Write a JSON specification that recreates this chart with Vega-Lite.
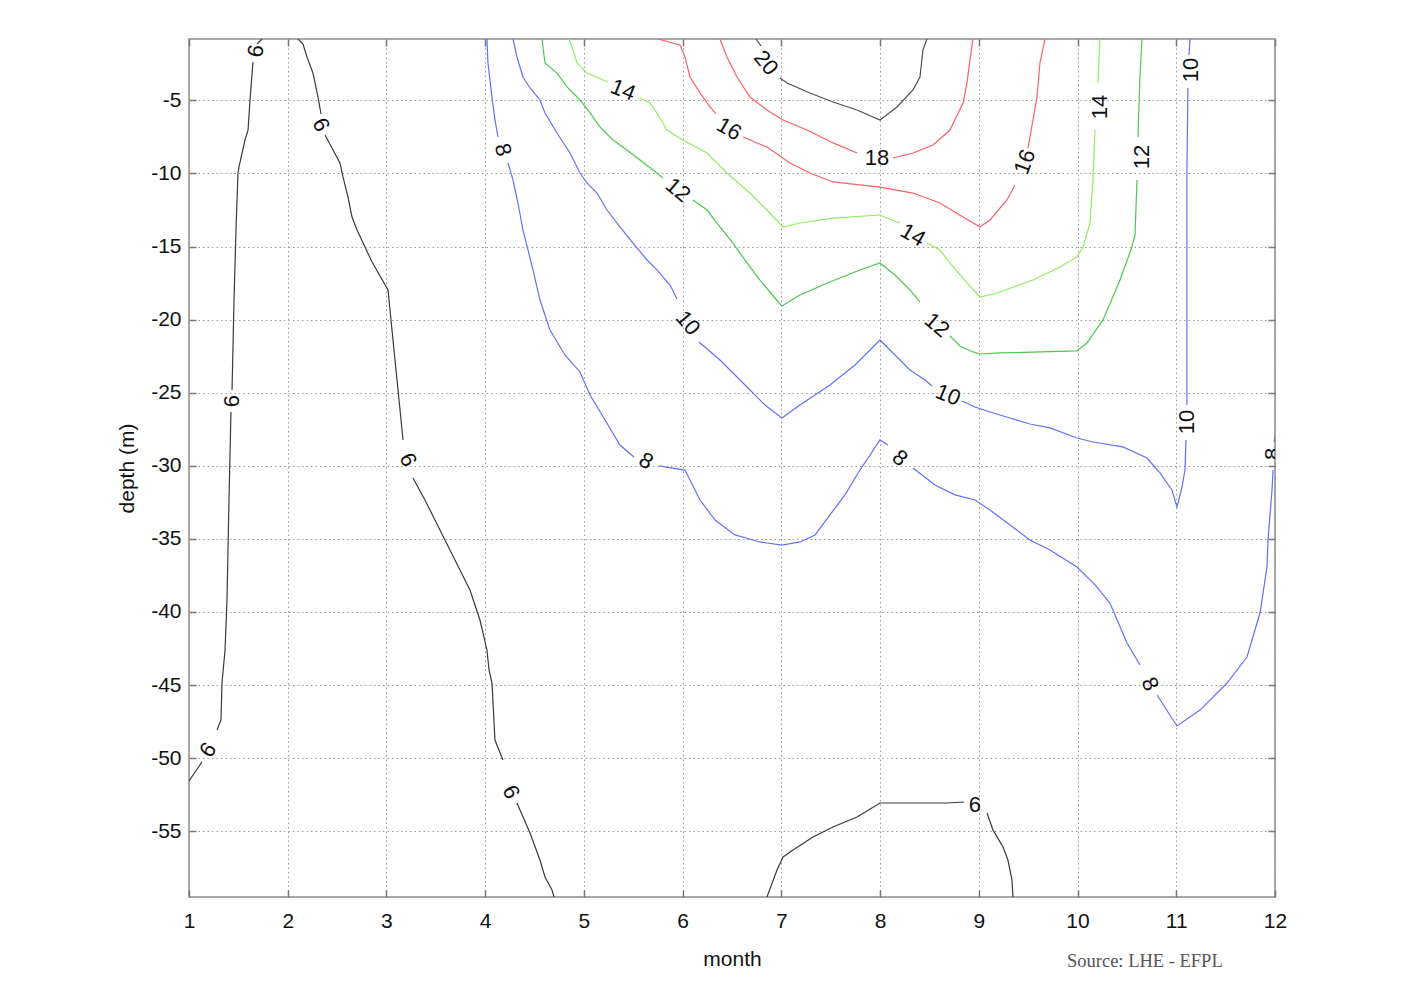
{
  "$schema": "https://vega.github.io/schema/vega-lite/v6.json",
  "width": 1086,
  "height": 858,
  "autosize": "none",
  "padding": {"left": 189, "top": 39, "right": 137, "bottom": 94},
  "background": "white",
  "title": {"text": "Source: LHE - EFPL", "orient": "bottom", "anchor": "end", "font": "Liberation Serif", "fontSize": 18.5, "fontWeight": "normal", "color": "#555555", "dx": -64, "offset": -17},
  "config": {
    "font": "Liberation Sans",
    "view": {"stroke": "#8c8c8c", "strokeWidth": 1.5},
    "text": {"font": "Liberation Sans", "fontSize": 22, "color": "#111111", "align": "center", "baseline": "middle"}
  },
  "datasets": {
    "lines": [
      {"l":"6","s":"6a1","m":1.739,"d":-0.80},{"l":"6","s":"6a1","m":1.689,"d":-1.14},
      {"l":"6","s":"6a2","m":1.648,"d":-2.37},{"l":"6","s":"6a2","m":1.618,"d":-4.97},{"l":"6","s":"6a2","m":1.598,"d":-7.03},{"l":"6","s":"6a2","m":1.567,"d":-7.71},{"l":"6","s":"6a2","m":1.506,"d":-9.56},{"l":"6","s":"6a2","m":1.496,"d":-9.97},{"l":"6","s":"6a2","m":1.476,"d":-13.87},{"l":"6","s":"6a2","m":1.456,"d":-18.66},{"l":"6","s":"6a2","m":1.436,"d":-24.81},
      {"l":"6","s":"6a3","m":1.425,"d":-26.32},{"l":"6","s":"6a3","m":1.405,"d":-32.34},{"l":"6","s":"6a3","m":1.385,"d":-39.18},{"l":"6","s":"6a3","m":1.365,"d":-42.60},{"l":"6","s":"6a3","m":1.334,"d":-44.86},{"l":"6","s":"6a3","m":1.324,"d":-47.39},{"l":"6","s":"6a3","m":1.284,"d":-48.07},
      {"l":"6","s":"6a4","m":1.132,"d":-50.26},{"l":"6","s":"6a4","m":1.0,"d":-51.56},
      {"l":"6","s":"6b1","m":2.104,"d":-0.80},{"l":"6","s":"6b1","m":2.155,"d":-1.14},{"l":"6","s":"6b1","m":2.195,"d":-2.03},{"l":"6","s":"6b1","m":2.256,"d":-3.13},{"l":"6","s":"6b1","m":2.307,"d":-4.77},{"l":"6","s":"6b1","m":2.337,"d":-5.93},
      {"l":"6","s":"6b2","m":2.378,"d":-7.37},{"l":"6","s":"6b2","m":2.459,"d":-8.39},{"l":"6","s":"6b2","m":2.529,"d":-9.28},{"l":"6","s":"6b2","m":2.560,"d":-10.24},{"l":"6","s":"6b2","m":2.610,"d":-11.61},{"l":"6","s":"6b2","m":2.651,"d":-12.98},{"l":"6","s":"6b2","m":2.702,"d":-13.87},{"l":"6","s":"6b2","m":2.854,"d":-16.06},{"l":"6","s":"6b2","m":3.016,"d":-17.97},{"l":"6","s":"6b2","m":3.056,"d":-20.71},{"l":"6","s":"6b2","m":3.107,"d":-24.13},{"l":"6","s":"6b2","m":3.168,"d":-28.23},
      {"l":"6","s":"6b3","m":3.269,"d":-30.83},{"l":"6","s":"6b3","m":3.390,"d":-32.34},{"l":"6","s":"6b3","m":3.542,"d":-34.39},{"l":"6","s":"6b3","m":3.694,"d":-36.44},{"l":"6","s":"6b3","m":3.846,"d":-38.50},{"l":"6","s":"6b3","m":3.947,"d":-40.55},{"l":"6","s":"6b3","m":4.018,"d":-42.60},{"l":"6","s":"6b3","m":4.039,"d":-43.97},{"l":"6","s":"6b3","m":4.069,"d":-44.86},{"l":"6","s":"6b3","m":4.099,"d":-48.76},{"l":"6","s":"6b3","m":4.180,"d":-50.13},
      {"l":"6","s":"6b4","m":4.322,"d":-53.07},{"l":"6","s":"6b4","m":4.454,"d":-55.12},{"l":"6","s":"6b4","m":4.555,"d":-56.97},{"l":"6","s":"6b4","m":4.606,"d":-58.13},{"l":"6","s":"6b4","m":4.677,"d":-59.02},{"l":"6","s":"6b4","m":4.697,"d":-59.50},
      {"l":"6","s":"6c1","m":6.854,"d":-59.50},{"l":"6","s":"6c1","m":6.956,"d":-57.65},{"l":"6","s":"6c1","m":7.017,"d":-56.76},{"l":"6","s":"6c1","m":7.118,"d":-56.28},{"l":"6","s":"6c1","m":7.320,"d":-55.39},{"l":"6","s":"6c1","m":7.523,"d":-54.71},{"l":"6","s":"6c1","m":7.766,"d":-54.03},{"l":"6","s":"6c1","m":7.999,"d":-53.07},{"l":"6","s":"6c1","m":8.677,"d":-53.07},{"l":"6","s":"6c1","m":8.850,"d":-53.00},
      {"l":"6","s":"6c2","m":9.083,"d":-53.75},{"l":"6","s":"6c2","m":9.143,"d":-54.91},{"l":"6","s":"6c2","m":9.245,"d":-56.08},{"l":"6","s":"6c2","m":9.295,"d":-56.97},{"l":"6","s":"6c2","m":9.336,"d":-58.34},{"l":"6","s":"6c2","m":9.346,"d":-59.50},
      {"l":"8","s":"8a1","m":4.018,"d":-0.80},{"l":"8","s":"8a1","m":4.028,"d":-2.44},{"l":"8","s":"8a1","m":4.069,"d":-4.77},{"l":"8","s":"8a1","m":4.099,"d":-6.34},{"l":"8","s":"8a1","m":4.130,"d":-7.50},
      {"l":"8","s":"8a2","m":4.231,"d":-9.28},{"l":"8","s":"8a2","m":4.282,"d":-10.45},{"l":"8","s":"8a2","m":4.332,"d":-12.02},{"l":"8","s":"8a2","m":4.383,"d":-13.87},{"l":"8","s":"8a2","m":4.434,"d":-15.24},{"l":"8","s":"8a2","m":4.484,"d":-16.60},{"l":"8","s":"8a2","m":4.555,"d":-18.66},{"l":"8","s":"8a2","m":4.656,"d":-20.71},{"l":"8","s":"8a2","m":4.808,"d":-22.42},{"l":"8","s":"8a2","m":4.960,"d":-23.58},{"l":"8","s":"8a2","m":5.062,"d":-25.16},{"l":"8","s":"8a2","m":5.214,"d":-26.87},{"l":"8","s":"8a2","m":5.365,"d":-28.58},{"l":"8","s":"8a2","m":5.507,"d":-29.40},
      {"l":"8","s":"8a3","m":5.760,"d":-30.01},{"l":"8","s":"8a3","m":6.024,"d":-30.29},{"l":"8","s":"8a3","m":6.074,"d":-30.97},{"l":"8","s":"8a3","m":6.176,"d":-32.34},{"l":"8","s":"8a3","m":6.328,"d":-33.71},{"l":"8","s":"8a3","m":6.530,"d":-34.73},{"l":"8","s":"8a3","m":6.783,"d":-35.21},{"l":"8","s":"8a3","m":7.006,"d":-35.42},{"l":"8","s":"8a3","m":7.188,"d":-35.21},{"l":"8","s":"8a3","m":7.341,"d":-34.73},{"l":"8","s":"8a3","m":7.492,"d":-33.36},{"l":"8","s":"8a3","m":7.644,"d":-31.99},{"l":"8","s":"8a3","m":7.796,"d":-30.29},{"l":"8","s":"8a3","m":7.898,"d":-29.26},{"l":"8","s":"8a3","m":7.999,"d":-28.23},{"l":"8","s":"8a3","m":8.080,"d":-28.58},
      {"l":"8","s":"8a4","m":8.333,"d":-30.15},{"l":"8","s":"8a4","m":8.556,"d":-31.31},{"l":"8","s":"8a4","m":8.759,"d":-31.99},{"l":"8","s":"8a4","m":8.961,"d":-32.34},{"l":"8","s":"8a4","m":9.113,"d":-33.02},{"l":"8","s":"8a4","m":9.316,"d":-34.05},{"l":"8","s":"8a4","m":9.518,"d":-35.08},{"l":"8","s":"8a4","m":9.721,"d":-35.76},{"l":"8","s":"8a4","m":9.994,"d":-36.92},{"l":"8","s":"8a4","m":10.177,"d":-38.15},{"l":"8","s":"8a4","m":10.328,"d":-39.39},{"l":"8","s":"8a4","m":10.501,"d":-42.12},{"l":"8","s":"8a4","m":10.632,"d":-43.63},
      {"l":"8","s":"8a5","m":10.805,"d":-45.68},{"l":"8","s":"8a5","m":11.007,"d":-47.80},{"l":"8","s":"8a5","m":11.240,"d":-46.71},{"l":"8","s":"8a5","m":11.514,"d":-44.86},{"l":"8","s":"8a5","m":11.716,"d":-43.08},{"l":"8","s":"8a5","m":11.848,"d":-40.07},{"l":"8","s":"8a5","m":11.919,"d":-36.92},{"l":"8","s":"8a5","m":11.929,"d":-35.08},{"l":"8","s":"8a5","m":11.970,"d":-31.65},{"l":"8","s":"8a5","m":11.980,"d":-30.29},
      {"l":"8","s":"8a6","m":11.990,"d":-28.37},{"l":"8","s":"8a6","m":12.0,"d":-27.96},
      {"l":"10","s":"10a1","m":4.282,"d":-0.80},{"l":"10","s":"10a1","m":4.322,"d":-2.03},{"l":"10","s":"10a1","m":4.383,"d":-3.40},{"l":"10","s":"10a1","m":4.454,"d":-4.15},{"l":"10","s":"10a1","m":4.555,"d":-4.97},{"l":"10","s":"10a1","m":4.606,"d":-5.86},{"l":"10","s":"10a1","m":4.727,"d":-7.23},{"l":"10","s":"10a1","m":4.859,"d":-8.60},{"l":"10","s":"10a1","m":4.960,"d":-9.97},{"l":"10","s":"10a1","m":5.031,"d":-10.65},{"l":"10","s":"10a1","m":5.132,"d":-11.34},{"l":"10","s":"10a1","m":5.234,"d":-12.50},{"l":"10","s":"10a1","m":5.365,"d":-13.66},{"l":"10","s":"10a1","m":5.497,"d":-14.76},{"l":"10","s":"10a1","m":5.639,"d":-15.92},{"l":"10","s":"10a1","m":5.740,"d":-16.60},{"l":"10","s":"10a1","m":5.872,"d":-17.63},{"l":"10","s":"10a1","m":5.943,"d":-18.59},
      {"l":"10","s":"10a2","m":6.166,"d":-21.53},{"l":"10","s":"10a2","m":6.378,"d":-22.76},{"l":"10","s":"10a2","m":6.632,"d":-24.47},{"l":"10","s":"10a2","m":6.834,"d":-25.84},{"l":"10","s":"10a2","m":7.006,"d":-26.73},{"l":"10","s":"10a2","m":7.188,"d":-25.84},{"l":"10","s":"10a2","m":7.492,"d":-24.47},{"l":"10","s":"10a2","m":7.746,"d":-23.10},{"l":"10","s":"10a2","m":7.898,"d":-22.08},{"l":"10","s":"10a2","m":7.999,"d":-21.39},{"l":"10","s":"10a2","m":8.100,"d":-22.08},{"l":"10","s":"10a2","m":8.202,"d":-22.76},{"l":"10","s":"10a2","m":8.303,"d":-23.45},{"l":"10","s":"10a2","m":8.455,"d":-24.13},{"l":"10","s":"10a2","m":8.526,"d":-24.54},
      {"l":"10","s":"10a3","m":8.829,"d":-25.57},{"l":"10","s":"10a3","m":8.961,"d":-25.98},{"l":"10","s":"10a3","m":9.113,"d":-26.32},{"l":"10","s":"10a3","m":9.316,"d":-26.73},{"l":"10","s":"10a3","m":9.518,"d":-27.14},{"l":"10","s":"10a3","m":9.721,"d":-27.41},{"l":"10","s":"10a3","m":9.994,"d":-28.10},{"l":"10","s":"10a3","m":10.156,"d":-28.37},{"l":"10","s":"10a3","m":10.460,"d":-28.71},{"l":"10","s":"10a3","m":10.703,"d":-29.47},{"l":"10","s":"10a3","m":10.835,"d":-30.49},{"l":"10","s":"10a3","m":10.956,"d":-31.65},{"l":"10","s":"10a3","m":11.007,"d":-32.82},{"l":"10","s":"10a3","m":11.058,"d":-31.45},{"l":"10","s":"10a3","m":11.088,"d":-30.29},{"l":"10","s":"10a3","m":11.098,"d":-28.23},
      {"l":"10","s":"10a4","m":11.108,"d":-25.84},{"l":"10","s":"10a4","m":11.108,"d":-15.92},{"l":"10","s":"10a4","m":11.108,"d":-9.97},{"l":"10","s":"10a4","m":11.118,"d":-4.15},
      {"l":"10","s":"10a5","m":11.129,"d":-1.89},{"l":"10","s":"10a5","m":11.139,"d":-0.80},
      {"l":"12","s":"12a1","m":4.575,"d":-0.80},{"l":"12","s":"12a1","m":4.606,"d":-2.44},{"l":"12","s":"12a1","m":4.727,"d":-3.13},{"l":"12","s":"12a1","m":4.829,"d":-4.08},{"l":"12","s":"12a1","m":4.960,"d":-4.97},{"l":"12","s":"12a1","m":5.062,"d":-5.86},{"l":"12","s":"12a1","m":5.163,"d":-6.82},{"l":"12","s":"12a1","m":5.295,"d":-7.71},{"l":"12","s":"12a1","m":5.436,"d":-8.39},{"l":"12","s":"12a1","m":5.568,"d":-9.08},{"l":"12","s":"12a1","m":5.700,"d":-9.76},{"l":"12","s":"12a1","m":5.801,"d":-10.31},
      {"l":"12","s":"12a2","m":6.105,"d":-11.81},{"l":"12","s":"12a2","m":6.247,"d":-12.50},{"l":"12","s":"12a2","m":6.378,"d":-13.66},{"l":"12","s":"12a2","m":6.510,"d":-14.76},{"l":"12","s":"12a2","m":6.652,"d":-16.12},{"l":"12","s":"12a2","m":6.783,"d":-17.29},{"l":"12","s":"12a2","m":6.935,"d":-18.52},{"l":"12","s":"12a2","m":7.006,"d":-19.07},{"l":"12","s":"12a2","m":7.188,"d":-18.31},{"l":"12","s":"12a2","m":7.492,"d":-17.42},{"l":"12","s":"12a2","m":7.796,"d":-16.60},{"l":"12","s":"12a2","m":7.999,"d":-16.12},{"l":"12","s":"12a2","m":8.151,"d":-16.95},{"l":"12","s":"12a2","m":8.303,"d":-17.97},{"l":"12","s":"12a2","m":8.404,"d":-18.79},
      {"l":"12","s":"12a3","m":8.708,"d":-21.12},{"l":"12","s":"12a3","m":8.809,"d":-21.80},{"l":"12","s":"12a3","m":8.941,"d":-22.21},{"l":"12","s":"12a3","m":9.012,"d":-22.35},{"l":"12","s":"12a3","m":9.214,"d":-22.28},{"l":"12","s":"12a3","m":9.619,"d":-22.21},{"l":"12","s":"12a3","m":9.994,"d":-22.14},{"l":"12","s":"12a3","m":10.095,"d":-21.60},{"l":"12","s":"12a3","m":10.258,"d":-20.02},{"l":"12","s":"12a3","m":10.430,"d":-17.29},{"l":"12","s":"12a3","m":10.551,"d":-15.03},{"l":"12","s":"12a3","m":10.582,"d":-14.21},{"l":"12","s":"12a3","m":10.602,"d":-10.45},
      {"l":"12","s":"12a4","m":10.612,"d":-7.50},{"l":"12","s":"12a4","m":10.632,"d":-3.40},{"l":"12","s":"12a4","m":10.653,"d":-0.80},
      {"l":"14","s":"14a1","m":4.849,"d":-0.80},{"l":"14","s":"14a1","m":4.889,"d":-1.55},{"l":"14","s":"14a1","m":4.930,"d":-2.44},{"l":"14","s":"14a1","m":5.031,"d":-3.13},{"l":"14","s":"14a1","m":5.244,"d":-3.74},
      {"l":"14","s":"14a2","m":5.568,"d":-4.84},{"l":"14","s":"14a2","m":5.669,"d":-5.18},{"l":"14","s":"14a2","m":5.740,"d":-5.86},{"l":"14","s":"14a2","m":5.841,"d":-7.03},{"l":"14","s":"14a2","m":6.004,"d":-7.71},{"l":"14","s":"14a2","m":6.247,"d":-8.60},{"l":"14","s":"14a2","m":6.449,"d":-9.97},{"l":"14","s":"14a2","m":6.682,"d":-11.34},{"l":"14","s":"14a2","m":6.854,"d":-12.50},{"l":"14","s":"14a2","m":7.016,"d":-13.66},{"l":"14","s":"14a2","m":7.188,"d":-13.39},{"l":"14","s":"14a2","m":7.523,"d":-13.05},{"l":"14","s":"14a2","m":7.999,"d":-12.84},{"l":"14","s":"14a2","m":8.070,"d":-13.05},{"l":"14","s":"14a2","m":8.202,"d":-13.39},
      {"l":"14","s":"14a3","m":8.475,"d":-14.76},{"l":"14","s":"14a3","m":8.607,"d":-15.24},{"l":"14","s":"14a3","m":8.708,"d":-16.12},{"l":"14","s":"14a3","m":8.880,"d":-17.49},{"l":"14","s":"14a3","m":9.012,"d":-18.45},{"l":"14","s":"14a3","m":9.184,"d":-18.18},{"l":"14","s":"14a3","m":9.549,"d":-17.29},{"l":"14","s":"14a3","m":9.822,"d":-16.40},{"l":"14","s":"14a3","m":9.994,"d":-15.71},{"l":"14","s":"14a3","m":10.055,"d":-15.03},{"l":"14","s":"14a3","m":10.126,"d":-13.39},{"l":"14","s":"14a3","m":10.156,"d":-10.45},{"l":"14","s":"14a3","m":10.177,"d":-7.03},
      {"l":"14","s":"14a4","m":10.207,"d":-3.81},{"l":"14","s":"14a4","m":10.227,"d":-0.80},
      {"l":"16","s":"16a1","m":5.750,"d":-0.80},{"l":"16","s":"16a1","m":5.973,"d":-1.21},{"l":"16","s":"16a1","m":6.024,"d":-2.03},{"l":"16","s":"16a1","m":6.074,"d":-3.40},{"l":"16","s":"16a1","m":6.176,"d":-4.49},{"l":"16","s":"16a1","m":6.277,"d":-5.45},{"l":"16","s":"16a1","m":6.338,"d":-5.93},
      {"l":"16","s":"16a2","m":6.611,"d":-7.50},{"l":"16","s":"16a2","m":6.854,"d":-8.19},{"l":"16","s":"16a2","m":7.087,"d":-9.28},{"l":"16","s":"16a2","m":7.290,"d":-9.97},{"l":"16","s":"16a2","m":7.523,"d":-10.58},{"l":"16","s":"16a2","m":7.999,"d":-10.93},{"l":"16","s":"16a2","m":8.333,"d":-11.34},{"l":"16","s":"16a2","m":8.607,"d":-12.02},{"l":"16","s":"16a2","m":8.840,"d":-12.98},{"l":"16","s":"16a2","m":9.012,"d":-13.66},{"l":"16","s":"16a2","m":9.113,"d":-13.18},{"l":"16","s":"16a2","m":9.285,"d":-11.81},{"l":"16","s":"16a2","m":9.366,"d":-10.79},
      {"l":"16","s":"16a3","m":9.498,"d":-8.26},{"l":"16","s":"16a3","m":9.549,"d":-6.34},{"l":"16","s":"16a3","m":9.589,"d":-4.77},{"l":"16","s":"16a3","m":9.619,"d":-2.44},{"l":"16","s":"16a3","m":9.670,"d":-0.80},
      {"l":"18","s":"18a1","m":6.378,"d":-0.80},{"l":"18","s":"18a1","m":6.449,"d":-2.03},{"l":"18","s":"18a1","m":6.551,"d":-3.40},{"l":"18","s":"18a1","m":6.682,"d":-4.77},{"l":"18","s":"18a1","m":6.854,"d":-5.66},{"l":"18","s":"18a1","m":7.016,"d":-6.34},{"l":"18","s":"18a1","m":7.259,"d":-7.03},{"l":"18","s":"18a1","m":7.523,"d":-7.91},{"l":"18","s":"18a1","m":7.766,"d":-8.60},
      {"l":"18","s":"18a2","m":8.131,"d":-8.94},{"l":"18","s":"18a2","m":8.333,"d":-8.60},{"l":"18","s":"18a2","m":8.536,"d":-8.05},{"l":"18","s":"18a2","m":8.708,"d":-7.03},{"l":"18","s":"18a2","m":8.840,"d":-5.18},{"l":"18","s":"18a2","m":8.880,"d":-3.81},{"l":"18","s":"18a2","m":8.910,"d":-2.24},{"l":"18","s":"18a2","m":8.941,"d":-0.80},
      {"l":"20","s":"20a1","m":6.743,"d":-0.80},{"l":"20","s":"20a1","m":6.794,"d":-1.28},
      {"l":"20","s":"20a2","m":6.986,"d":-3.47},{"l":"20","s":"20a2","m":7.057,"d":-3.81},{"l":"20","s":"20a2","m":7.290,"d":-4.49},{"l":"20","s":"20a2","m":7.523,"d":-5.11},{"l":"20","s":"20a2","m":7.766,"d":-5.66},{"l":"20","s":"20a2","m":7.999,"d":-6.34},{"l":"20","s":"20a2","m":8.171,"d":-5.45},{"l":"20","s":"20a2","m":8.333,"d":-4.29},{"l":"20","s":"20a2","m":8.404,"d":-3.40},{"l":"20","s":"20a2","m":8.434,"d":-1.55},{"l":"20","s":"20a2","m":8.475,"d":-0.80}
    ],
    "lab_m90": [{"t":"6","m":1.436,"d":-25.57},{"t":"8","m":11.98,"d":-29.19},{"t":"10","m":11.108,"d":-27.0},{"t":"10","m":11.149,"d":-2.92},{"t":"12","m":10.653,"d":-8.87},{"t":"14","m":10.227,"d":-5.45}],
    "lab_m80": [{"t":"6","m":1.679,"d":-1.62}],
    "lab_m70": [{"t":"16","m":9.467,"d":-9.21}],
    "lab_m55": [{"t":"6","m":1.192,"d":-49.44}],
    "lab_0": [{"t":"18","m":7.969,"d":-8.94},{"t":"6","m":8.961,"d":-53.2}],
    "lab_20": [{"t":"10","m":8.688,"d":-25.16},{"t":"14","m":5.396,"d":-4.29}],
    "lab_30": [{"t":"16","m":6.47,"d":-6.96},{"t":"8","m":5.629,"d":-29.67},{"t":"14","m":8.333,"d":-14.21}],
    "lab_40": [{"t":"12","m":5.953,"d":-11.13},{"t":"12","m":8.576,"d":-20.37},{"t":"8","m":8.202,"d":-29.47}],
    "lab_50": [{"t":"10","m":6.054,"d":-20.23},{"t":"20","m":6.844,"d":-2.44}],
    "lab_65": [{"t":"6","m":2.337,"d":-6.68},{"t":"6","m":3.218,"d":-29.6},{"t":"6","m":4.261,"d":-52.32},{"t":"8","m":10.734,"d":-44.93}],
    "lab_75": [{"t":"8","m":4.18,"d":-8.39}]
  },
  "layer": [
    {
      "data": {"name": "lines"},
      "mark": {"type": "line", "strokeWidth": 1.2, "clip": true},
      "encoding": {
        "x": {"field": "m", "type": "quantitative", "scale": {"domain": [1, 12], "nice": false, "zero": false},
              "axis": {"orient": "bottom", "values": [1,2,3,4,5,6,7,8,9,10,11,12], "grid": true, "gridColor": "#999999", "gridDash": [1.5, 3], "gridWidth": 1, "domain": false, "tickSize": -7, "tickColor": "#777777", "tickWidth": 1.5, "labelFontSize": 21, "labelColor": "#111111", "labelPadding": 20, "labelFlush": false, "labelOverlap": false, "title": "month", "titleFontSize": 21, "titleFontWeight": "normal", "titleColor": "#111111", "titlePadding": 17}},
        "y": {"field": "d", "type": "quantitative", "scale": {"domain": [-59.5, -0.8], "nice": false, "zero": false},
              "axis": {"orient": "left", "values": [-55,-50,-45,-40,-35,-30,-25,-20,-15,-10,-5], "labelExpr": "'' + datum.value", "grid": true, "gridColor": "#999999", "gridDash": [1.5, 3], "gridWidth": 1, "domain": false, "tickSize": -7, "tickColor": "#777777", "tickWidth": 1.5, "labelFontSize": 21, "labelColor": "#111111", "labelPadding": 15, "labelFlush": false, "labelOverlap": false, "title": "depth (m)", "titleFontSize": 21, "titleFontWeight": "normal", "titleColor": "#111111", "titlePadding": 13}},
        "color": {"field": "l", "type": "nominal", "legend": null,
                  "scale": {"domain": ["6","8","10","12","14","16","18","20"], "range": ["#3a3a3a","#6072f7","#6072f7","#4cc84c","#90ee60","#ff6060","#ff6060","#505050"]}},
        "detail": {"field": "s", "type": "nominal"},
        "order": {"value": null}
      }
    },
    {"data": {"name": "lab_m90"}, "mark": {"type": "text", "angle": -90, "clip": true}, "encoding": {"x": {"field": "m", "type": "quantitative", "scale": {"domain": [1, 12], "nice": false, "zero": false}, "axis": null}, "y": {"field": "d", "type": "quantitative", "scale": {"domain": [-59.5, -0.8], "nice": false, "zero": false}, "axis": null}, "text": {"field": "t"}}},
    {"data": {"name": "lab_m80"}, "mark": {"type": "text", "angle": -80, "clip": true}, "encoding": {"x": {"field": "m", "type": "quantitative", "scale": {"domain": [1, 12], "nice": false, "zero": false}, "axis": null}, "y": {"field": "d", "type": "quantitative", "scale": {"domain": [-59.5, -0.8], "nice": false, "zero": false}, "axis": null}, "text": {"field": "t"}}},
    {"data": {"name": "lab_m70"}, "mark": {"type": "text", "angle": -70, "clip": true}, "encoding": {"x": {"field": "m", "type": "quantitative", "scale": {"domain": [1, 12], "nice": false, "zero": false}, "axis": null}, "y": {"field": "d", "type": "quantitative", "scale": {"domain": [-59.5, -0.8], "nice": false, "zero": false}, "axis": null}, "text": {"field": "t"}}},
    {"data": {"name": "lab_m55"}, "mark": {"type": "text", "angle": -55, "clip": true}, "encoding": {"x": {"field": "m", "type": "quantitative", "scale": {"domain": [1, 12], "nice": false, "zero": false}, "axis": null}, "y": {"field": "d", "type": "quantitative", "scale": {"domain": [-59.5, -0.8], "nice": false, "zero": false}, "axis": null}, "text": {"field": "t"}}},
    {"data": {"name": "lab_0"}, "mark": {"type": "text", "angle": 0, "clip": true}, "encoding": {"x": {"field": "m", "type": "quantitative", "scale": {"domain": [1, 12], "nice": false, "zero": false}, "axis": null}, "y": {"field": "d", "type": "quantitative", "scale": {"domain": [-59.5, -0.8], "nice": false, "zero": false}, "axis": null}, "text": {"field": "t"}}},
    {"data": {"name": "lab_20"}, "mark": {"type": "text", "angle": 22, "clip": true}, "encoding": {"x": {"field": "m", "type": "quantitative", "scale": {"domain": [1, 12], "nice": false, "zero": false}, "axis": null}, "y": {"field": "d", "type": "quantitative", "scale": {"domain": [-59.5, -0.8], "nice": false, "zero": false}, "axis": null}, "text": {"field": "t"}}},
    {"data": {"name": "lab_30"}, "mark": {"type": "text", "angle": 30, "clip": true}, "encoding": {"x": {"field": "m", "type": "quantitative", "scale": {"domain": [1, 12], "nice": false, "zero": false}, "axis": null}, "y": {"field": "d", "type": "quantitative", "scale": {"domain": [-59.5, -0.8], "nice": false, "zero": false}, "axis": null}, "text": {"field": "t"}}},
    {"data": {"name": "lab_40"}, "mark": {"type": "text", "angle": 40, "clip": true}, "encoding": {"x": {"field": "m", "type": "quantitative", "scale": {"domain": [1, 12], "nice": false, "zero": false}, "axis": null}, "y": {"field": "d", "type": "quantitative", "scale": {"domain": [-59.5, -0.8], "nice": false, "zero": false}, "axis": null}, "text": {"field": "t"}}},
    {"data": {"name": "lab_50"}, "mark": {"type": "text", "angle": 50, "clip": true}, "encoding": {"x": {"field": "m", "type": "quantitative", "scale": {"domain": [1, 12], "nice": false, "zero": false}, "axis": null}, "y": {"field": "d", "type": "quantitative", "scale": {"domain": [-59.5, -0.8], "nice": false, "zero": false}, "axis": null}, "text": {"field": "t"}}},
    {"data": {"name": "lab_65"}, "mark": {"type": "text", "angle": 65, "clip": true}, "encoding": {"x": {"field": "m", "type": "quantitative", "scale": {"domain": [1, 12], "nice": false, "zero": false}, "axis": null}, "y": {"field": "d", "type": "quantitative", "scale": {"domain": [-59.5, -0.8], "nice": false, "zero": false}, "axis": null}, "text": {"field": "t"}}},
    {"data": {"name": "lab_75"}, "mark": {"type": "text", "angle": 75, "clip": true}, "encoding": {"x": {"field": "m", "type": "quantitative", "scale": {"domain": [1, 12], "nice": false, "zero": false}, "axis": null}, "y": {"field": "d", "type": "quantitative", "scale": {"domain": [-59.5, -0.8], "nice": false, "zero": false}, "axis": null}, "text": {"field": "t"}}},
    {
      "data": {"name": "lines"},
      "mark": {"type": "point", "opacity": 0},
      "encoding": {
        "x": {"field": "m", "type": "quantitative", "scale": {"domain": [1, 12], "nice": false, "zero": false},
              "axis": {"orient": "top", "values": [1,2,3,4,5,6,7,8,9,10,11,12], "labels": false, "grid": false, "domain": false, "tickSize": -7, "tickColor": "#777777", "tickWidth": 1.5, "title": null}},
        "y": {"field": "d", "type": "quantitative", "scale": {"domain": [-59.5, -0.8], "nice": false, "zero": false},
              "axis": {"orient": "right", "values": [-55,-50,-45,-40,-35,-30,-25,-20,-15,-10,-5], "labels": false, "grid": false, "domain": false, "tickSize": -7, "tickColor": "#777777", "tickWidth": 1.5, "title": null}}
      }
    }
  ],
  "resolve": {"axis": {"x": "independent", "y": "independent"}}
}
